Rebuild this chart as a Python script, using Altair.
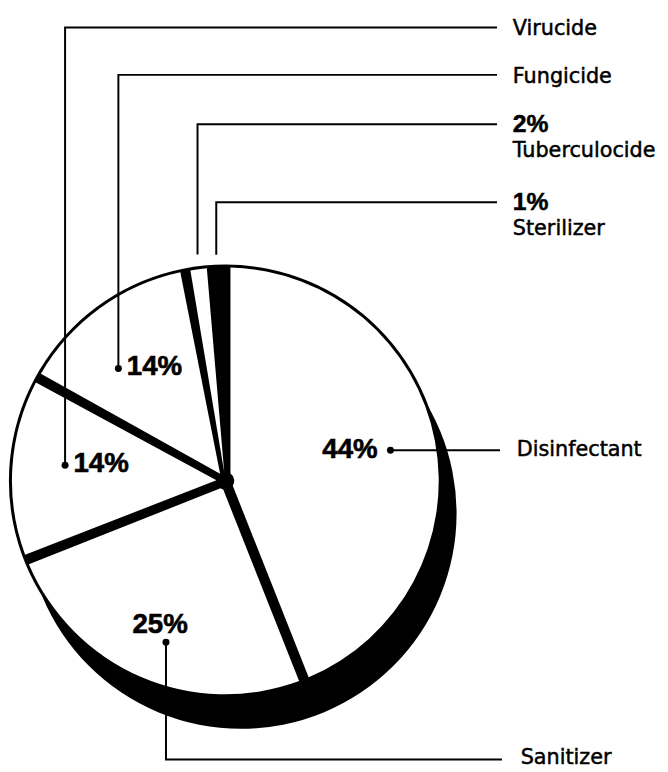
import math
import altair as alt
import pandas as pd

# ---------------- data ----------------
categories = ["Disinfectant", "Sanitizer", "Virucide", "Fungicide", "Tuberculocide", "Sterilizer"]
shares = [44, 25, 14, 14, 2, 1]
pct_text = ["44%", "25%", "14%", "14%", "2%", "1%"]

# ---------------- layout / style ----------------
W, H = 660, 764
CX, CY, R = 220, 474, 216
SHADOW_DX, SHADOW_DY, SHADOW_R = 16, 33, 218
PAD = 0.048
HUB = 9
slice_fill = ["white", "white", "white", "white", "white", "black"]

# leader-line anchor: radius and angular nudge (deg) from slice mid-angle
anchor_r = [170, 174, 163, 157, 231, 229]
anchor_nudge = [0.3, -3.2, 2.0, -7.6, 0.2, -0.5]
has_dot = [True, True, True, True, False, False]
route = ["right", "down", "up", "up", "up", "up"]
row_y = [None, 756, 15, 63, 113, 192]
line_end = [498, 500, 495, 495, 495, 495]
label_x = [515, 519, 511, 511, 511, 511]
# in-pie percentage label offsets from anchor (center aligned)
pct_in_pie = [True, True, True, True, False, False]
pct_off = [(-41, 0), (-6, -17), (36.5, -1), (36.5, -1), None, None]

# ---------------- derived tables ----------------
pie_df = pd.DataFrame({"category": categories, "share": shares, "idx": list(range(len(categories)))})

total = sum(shares)
cum = 0.0
anchors = []
for i, s in enumerate(shares):
    mid = (cum + s / 2) / total * 360.0
    cum += s
    th = math.radians(mid + anchor_nudge[i])
    ax = CX + anchor_r[i] * math.sin(th)
    ay = CY - anchor_r[i] * math.cos(th)
    anchors.append((ax, ay))

line_rows, dot_rows, name_rows, pct_rows, side_pct_rows = [], [], [], [], []
for i, cat in enumerate(categories):
    ax, ay = anchors[i]
    if route[i] == "right":
        pts = [(ax, ay), (line_end[i], ay)]
        name_rows.append({"x": label_x[i], "y": ay, "t": cat})
    elif route[i] == "down":
        pts = [(ax, ay), (ax, row_y[i]), (line_end[i], row_y[i])]
        name_rows.append({"x": label_x[i], "y": row_y[i] - 1, "t": cat})
    else:
        pts = [(ax, ay), (ax, row_y[i]), (line_end[i], row_y[i])]
        if pct_in_pie[i]:
            name_rows.append({"x": label_x[i], "y": row_y[i] + 2, "t": cat})
        else:
            side_pct_rows.append({"x": label_x[i], "y": row_y[i], "t": pct_text[i]})
            name_rows.append({"x": label_x[i], "y": row_y[i] + 27, "t": cat})
    for k, (px, py) in enumerate(pts):
        line_rows.append({"category": cat, "k": k, "x": px, "y": py})
    if has_dot[i]:
        dot_rows.append({"x": ax, "y": ay})
    if pct_in_pie[i]:
        dx, dy = pct_off[i]
        pct_rows.append({"x": ax + dx, "y": ay + dy, "t": pct_text[i]})

xs = alt.Scale(domain=[0, W], nice=False)
ys = alt.Scale(domain=[0, H], nice=False, reverse=True)

def XY(df):
    return alt.Chart(pd.DataFrame(df)).encode(
        x=alt.X("x:Q", scale=xs, axis=None),
        y=alt.Y("y:Q", scale=ys, axis=None),
    )

one = pd.DataFrame({"a": [1]})

shadow = alt.Chart(one).mark_arc(
    theta=0, theta2=2 * math.pi, radius=SHADOW_R, fill="black", stroke=None
).encode(x=alt.value(CX + SHADOW_DX), y=alt.value(CY + SHADOW_DY))

outline = alt.Chart(one).mark_arc(
    theta=0, theta2=2 * math.pi, radius=R + 3, fill="black", stroke=None
).encode(x=alt.value(CX), y=alt.value(CY))

pie = alt.Chart(pie_df).mark_arc(radius=R, radius2=HUB, padAngle=PAD, stroke=None).encode(
    theta=alt.Theta("share:Q", stack=True),
    order=alt.Order("idx:Q", sort="ascending"),
    color=alt.Color("category:N", scale=alt.Scale(domain=categories, range=slice_fill), legend=None),
    x=alt.value(CX),
    y=alt.value(CY),
)

lines = alt.Chart(pd.DataFrame(line_rows)).mark_line(color="black", strokeWidth=2).encode(
    x=alt.X("x:Q", scale=xs, axis=None),
    y=alt.Y("y:Q", scale=ys, axis=None),
    detail="category:N",
    order="k:Q",
)

dots = XY(dot_rows).mark_circle(size=50, color="black", opacity=1)

names = XY(name_rows).mark_text(
    align="left", baseline="middle", font="DejaVu Sans", fontSize=21, color="black",
    stroke="black", strokeWidth=0.5
).encode(text="t:N")

pcts = XY(pct_rows).mark_text(
    align="center", baseline="middle", font="Liberation Sans", fontWeight="bold", fontSize=28, color="black",
    stroke="black", strokeWidth=0.6
).encode(text="t:N")

side_pcts = XY(side_pct_rows).mark_text(
    align="left", baseline="middle", font="Liberation Sans", fontWeight="bold", fontSize=25, color="black",
    stroke="black", strokeWidth=0.5
).encode(text="t:N")

chart = alt.layer(shadow, outline, pie, lines, dots, names, pcts, side_pcts).properties(
    width=W, height=H, padding=0, autosize=alt.AutoSizeParams(type="none"), background="white"
).configure_view(stroke=None)

chart.save("out.html", embed_options={"renderer": "svg", "actions": False})
